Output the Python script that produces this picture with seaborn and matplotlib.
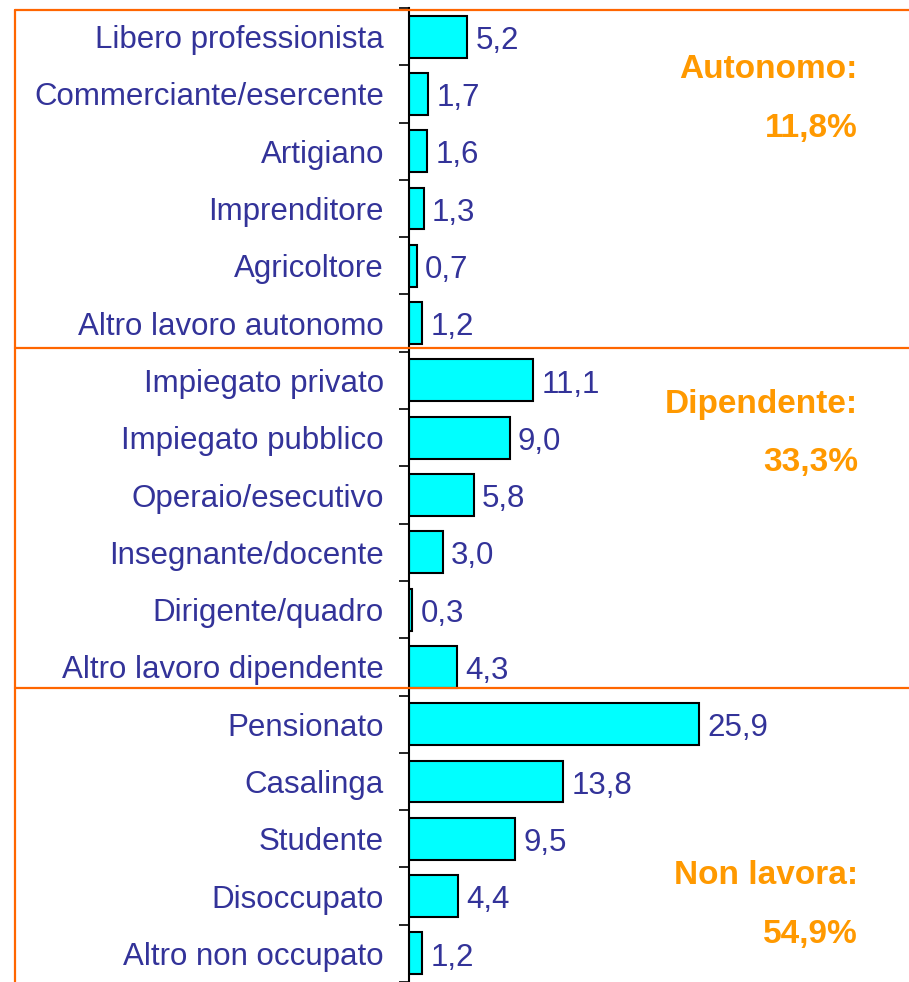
import matplotlib
matplotlib.use("Agg")
import matplotlib.pyplot as plt
import seaborn as sns
import pandas as pd
import numpy as np
from matplotlib.lines import Line2D

# Data (percentages)
categories = [
    "Libero professionista", "Commerciante/esercente", "Artigiano",
    "Imprenditore", "Agricoltore", "Altro lavoro autonomo",
    "Impiegato privato", "Impiegato pubblico", "Operaio/esecutivo",
    "Insegnante/docente", "Dirigente/quadro", "Altro lavoro dipendente",
    "Pensionato", "Casalinga", "Studente", "Disoccupato", "Altro non occupato",
]
values = [5.2, 1.7, 1.6, 1.3, 0.7, 1.2,
          11.1, 9.0, 5.8, 3.0, 0.3, 4.3,
          25.9, 13.8, 9.5, 4.4, 1.2]
group_names = ["Autonomo:", "Dipendente:", "Non lavora:"]
group_totals = ["11,8%", "33,3%", "54,9%"]

df = pd.DataFrame({"categoria": categories, "valore": values})

navy = "#333399"
orange_line = "#FF6600"
orange_text = "#FF9900"

sns.set_style("white")
plt.rcParams["font.family"] = ["Liberation Sans", "DejaVu Sans"]

W, H = 909, 982
fig = plt.figure(figsize=(W / 100, H / 100), dpi=100)
ax = fig.add_axes([409 / W, 0, 1 - 409 / W, 1 - 8 / H])

sns.barplot(data=df, y="categoria", x="valore", orient="h", color="#00FFFF",
            saturation=1, edgecolor="black", linewidth=1.5, width=0.73, ax=ax)

n = len(categories)
ax.set_xlim(0, 500 / 11.18)
ax.set_ylim((982 - 37) / 57.5, -0.5)

# value labels with comma decimals, nudged down a little
labels = ax.bar_label(ax.containers[0],
                      labels=[f"{v:.1f}".replace(".", ",") for v in values],
                      padding=6, color=navy, fontsize=22.5)
for t in labels:
    t.xyann = (6, -3)

# ticks: labels at centres, marks at boundaries
ax.set_yticks(np.arange(n))
ax.set_yticklabels(categories, color=navy, fontsize=22.5)
ax.tick_params(axis="y", which="major", length=0, pad=18)
ax.set_yticks(np.arange(n + 1) - 0.5, minor=True)
ax.tick_params(axis="y", which="minor", length=7, width=1.2, color="black",
               direction="out", left=True)
ax.set_xticks([])
ax.set_xlabel("")
ax.set_ylabel("")
for side in ["top", "right", "bottom"]:
    ax.spines[side].set_visible(False)
ax.spines["left"].set_color("black")
ax.spines["left"].set_linewidth(1.5)

# orange group frame
def px_line(x0, y0, x1, y1):
    fig.add_artist(Line2D([x0 / W, x1 / W], [1 - y0 / H, 1 - y1 / H],
                          color=orange_line, linewidth=1.6,
                          transform=fig.transFigure))

px_line(15, 10, 909, 10)
px_line(15, 10, 15, 982)
px_line(15, 348, 909, 348)
px_line(15, 688, 909, 688)

# group totals
label_y = [(70, 128), (405, 463), (876, 934)]
for name, tot, (y1, y2) in zip(group_names, group_totals, label_y):
    fig.text(858 / W, 1 - y1 / H, name, ha="right", va="center",
             color=orange_text, fontsize=24, fontweight="bold")
    fig.text(858 / W, 1 - y2 / H, tot, ha="right", va="center",
             color=orange_text, fontsize=24, fontweight="bold")

fig.savefig("out.png", dpi=100)
